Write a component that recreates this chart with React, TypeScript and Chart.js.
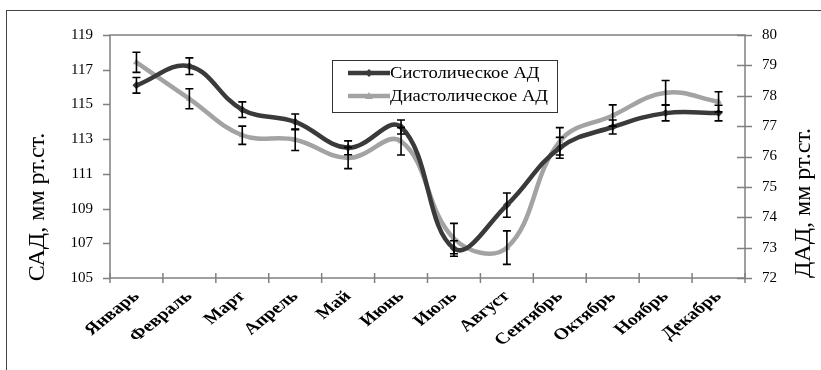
import React, { useEffect, useRef } from "react";
import { Chart, registerables } from "chart.js";

Chart.register(...registerables);

const months = ["Январь", "Февраль", "Март", "Апрель", "Май", "Июнь", "Июль", "Август", "Сентябрь", "Октябрь", "Ноябрь", "Декабрь"];
const systolic = [116.1, 117.2, 114.7, 114.0, 112.5, 113.7, 106.7, 109.2, 112.5, 113.7, 114.5, 114.5];
const systolicErr = [0.45, 0.48, 0.45, 0.45, 0.4, 0.4, 0.45, 0.7, 0.6, 0.4, 0.45, 0.45];
const diastolic = [79.1, 77.9, 76.7, 76.55, 75.95, 76.5, 73.3, 73.0, 76.5, 77.35, 78.1, 77.8];
const diastolicErr = [0.33, 0.33, 0.3, 0.35, 0.35, 0.45, 0.5, 0.55, 0.45, 0.35, 0.4, 0.33];
const seriesNames = ["Систолическое АД", "Диастолическое АД"];
const leftTitle = "САД, мм рт.ст.";
const rightTitle = "ДАД, мм рт.ст.";

const FONT = "'Liberation Serif', 'Times New Roman', serif";
const SYS_COLOR = "#3a3a3a";
const DIA_COLOR = "#a3a3a3";
const AXIS_COLOR = "#808080";
const STRETCH = 1.25;

const decorPlugin = {
  id: "decor",
  afterDatasetsDraw(chart: any) {
    const ctx = chart.ctx;
    const x = chart.scales.x;
    const yl = chart.scales.y;
    const yr = chart.scales.y2;
    const area = chart.chartArea;
    ctx.save();
    ctx.strokeStyle = AXIS_COLOR;
    ctx.lineWidth = 1.5;
    ctx.strokeRect(area.left, area.top, area.right - area.left, area.bottom - area.top);
    ctx.beginPath();
    yl.ticks.forEach((t: any) => {
      const py = Math.round(yl.getPixelForValue(t.value)) + 0.5;
      ctx.moveTo(area.left - 7, py);
      ctx.lineTo(area.left, py);
    });
    yr.ticks.forEach((t: any) => {
      const py = Math.round(yr.getPixelForValue(t.value)) + 0.5;
      ctx.moveTo(area.right - 8, py);
      ctx.lineTo(area.right + 7, py);
    });
    const n = months.length;
    for (let i = 0; i <= n; i++) {
      const px = x.getPixelForValue(i - 0.5);
      ctx.moveTo(px, area.bottom - 5);
      ctx.lineTo(px, area.bottom + 5);
    }
    ctx.stroke();

    const drawErr = (vals: number[], errs: number[], scale: any) => {
      ctx.strokeStyle = "#000";
      ctx.lineWidth = 1.6;
      ctx.beginPath();
      vals.forEach((v, i) => {
        const px = x.getPixelForValue(i);
        const top = scale.getPixelForValue(v + errs[i]);
        const bot = scale.getPixelForValue(v - errs[i]);
        ctx.moveTo(px, top);
        ctx.lineTo(px, bot);
        ctx.moveTo(px - 4, top);
        ctx.lineTo(px + 4, top);
        ctx.moveTo(px - 4, bot);
        ctx.lineTo(px + 4, bot);
      });
      ctx.stroke();
    };
    drawErr(systolic, systolicErr, yl);
    drawErr(diastolic, diastolicErr, yr);

    ctx.fillStyle = "#000";
    ctx.font = `bold 16px ${FONT}`;
    ctx.textAlign = "right";
    ctx.textBaseline = "middle";
    months.forEach((m, i) => {
      const px = x.getPixelForValue(i);
      ctx.save();
      ctx.translate(px, area.bottom + 16);
      ctx.scale(STRETCH, 1);
      ctx.rotate(-Math.PI / 4);
      ctx.fillText(m, 0, 0);
      ctx.restore();
    });

    ctx.font = `24px ${FONT}`;
    ctx.textAlign = "center";
    ctx.textBaseline = "middle";
    ctx.save();
    ctx.translate(38, 207);
    ctx.rotate(-Math.PI / 2);
    ctx.fillText(leftTitle, 0, 0);
    ctx.restore();
    ctx.save();
    ctx.translate(804, 203);
    ctx.rotate(-Math.PI / 2);
    ctx.fillText(rightTitle, 0, 0);
    ctx.restore();

    const lx = 332, ly = 60, lw = 225, lh = 52;
    ctx.fillStyle = "#fff";
    ctx.fillRect(lx, ly, lw, lh);
    ctx.strokeStyle = "#333";
    ctx.lineWidth = 1;
    ctx.strokeRect(lx + 0.5, ly + 0.5, lw, lh);
    const rows = [
      { name: seriesNames[0], color: SYS_COLOR, y: ly + 13 },
      { name: seriesNames[1], color: DIA_COLOR, y: ly + 36 },
    ];
    rows.forEach((r, i) => {
      ctx.strokeStyle = r.color;
      ctx.lineWidth = 4.5;
      ctx.beginPath();
      ctx.moveTo(lx + 16, r.y);
      ctx.lineTo(lx + 58, r.y);
      ctx.stroke();
      ctx.fillStyle = r.color;
      ctx.beginPath();
      const cx = lx + 37;
      if (i === 0) {
        ctx.moveTo(cx, r.y - 4);
        ctx.lineTo(cx + 4, r.y);
        ctx.lineTo(cx, r.y + 4);
        ctx.lineTo(cx - 4, r.y);
      } else {
        ctx.moveTo(cx, r.y - 4);
        ctx.lineTo(cx + 4, r.y + 3);
        ctx.lineTo(cx - 4, r.y + 3);
      }
      ctx.closePath();
      ctx.fill();
      ctx.fillStyle = "#000";
      ctx.font = `16px ${FONT}`;
      ctx.textAlign = "left";
      ctx.textBaseline = "middle";
      ctx.save();
      ctx.translate(lx + 58, r.y + 1);
      ctx.scale(1.16, 1);
      ctx.fillText(r.name, 0, 0);
      ctx.restore();
    });
    ctx.restore();
  },
};

export default function App() {
  const ref = useRef<HTMLCanvasElement | null>(null);
  useEffect(() => {
    if (!ref.current) return;
    const chart = new Chart(ref.current, {
      type: "line",
      data: {
        labels: months,
        datasets: [
          {
            label: seriesNames[0],
            data: systolic,
            yAxisID: "y",
            borderColor: SYS_COLOR,
            backgroundColor: SYS_COLOR,
            borderWidth: 4.5,
            tension: 0.4,
            pointStyle: "rectRot",
            pointRadius: 4,
            pointBorderWidth: 0,
            fill: false,
          },
          {
            label: seriesNames[1],
            data: diastolic,
            yAxisID: "y2",
            borderColor: DIA_COLOR,
            backgroundColor: DIA_COLOR,
            borderWidth: 4.5,
            tension: 0.4,
            pointStyle: "triangle",
            pointRadius: 4,
            pointBorderWidth: 0,
            fill: false,
          },
        ],
      },
      options: {
        responsive: false,
        animation: false,
        layout: { padding: { top: 35, left: 0, right: 0, bottom: 0 } },
        plugins: { legend: { display: false }, tooltip: { enabled: false } },
        scales: {
          x: {
            offset: true,
            grid: { display: false, drawTicks: false },
            border: { display: false },
            ticks: { display: false },
            afterFit: (s: any) => {
              s.height = 92;
            },
          },
          y: {
            position: "left",
            min: 105,
            max: 119,
            grid: { display: false, drawTicks: false },
            border: { display: false },
            ticks: {
              stepSize: 2,
              padding: 17,
              color: "#000",
              font: { family: FONT, size: 15 },
            },
            afterFit: (s: any) => {
              s.width = 110;
            },
          },
          y2: {
            position: "right",
            min: 72,
            max: 80,
            grid: { display: false, drawTicks: false },
            border: { display: false },
            ticks: {
              stepSize: 1,
              padding: 17,
              color: "#000",
              font: { family: FONT, size: 15 },
            },
            afterFit: (s: any) => {
              s.width = 76;
            },
          },
        },
      },
      plugins: [decorPlugin],
    });
    return () => chart.destroy();
  }, []);
  return (
    <div style={{ position: "absolute", left: 0, top: 0, width: 821, height: 370, overflow: "hidden", background: "#fff" }}>
      <div
        style={{
          position: "absolute",
          left: 6,
          top: 10,
          width: 1000,
          height: 600,
          borderLeft: "1px solid #444",
          borderTop: "1px solid #444",
        }}
      />
      <canvas ref={ref} width={821} height={370} style={{ position: "absolute", left: 0, top: 0 }} />
    </div>
  );
}
